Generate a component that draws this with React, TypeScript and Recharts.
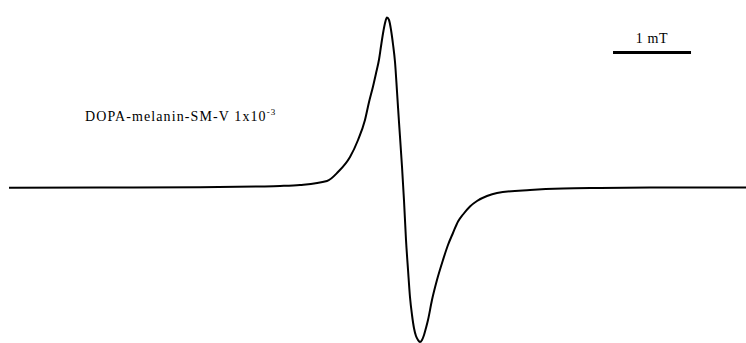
import React from "react";
import { LineChart, Line, XAxis, YAxis, ReferenceLine } from "recharts";

// Magnetic field offset from centre (mT)
const field = [
  -5.013, -3.846, -2.564, -1.795, -1.538, -1.282, -0.936, -0.795, -0.641, -0.538,
  -0.449, -0.397, -0.346, -0.308, -0.269, -0.244, -0.218, -0.192, -0.167, -0.141,
  -0.115, -0.09, -0.064, -0.038, -0.013, 0.026, 0.051, 0.077, 0.103, 0.128,
  0.154, 0.179, 0.205, 0.231, 0.256, 0.282, 0.308, 0.333, 0.359, 0.41,
  0.474, 0.551, 0.615, 0.679, 0.744, 0.808, 0.897, 0.987, 1.115, 1.244, 1.667,
  2.09, 2.564, 3.205, 4.436,
];

// First-derivative EPR signal (arbitrary units)
const signal = [
  -0.2, 0, 0.2, 1, 1.5, 2.5, 6.5, 15.5, 30.5, 47.5,
  67.5, 85.5, 101, 114, 128, 141, 154, 164.5, 170, 167.5,
  157.5, 143.5, 125.5, 95.5, 65.5, 20.5, -12.5, -52.5, -82.5, -109.5,
  -127.5, -140.5, -148.5, -152.5, -154.5, -152.5, -147.5, -140.5, -132.5, -112.5,
  -92.5, -72.5, -57.5, -45.5, -34, -27, -19, -13.5, -8.5, -5.5, -2.5,
  -1, -0.5, -0.1, 0,
];

const sampleLabel = "DOPA-melanin-SM-V 1x10";
const sampleExp = "-3";
const scaleLabel = "1 mT";
const scaleStart = 2.731;
const scaleLength = 1;
const scaleLevel = 135;

const data = field.map((b, i) => ({ b, s: signal[i] }));

const ScaleLabel = (props: any) => {
  const vb = props.viewBox || {};
  const cx = (vb.x || 0) + (vb.width || 0) / 2;
  const y = (vb.y || 0) - 10;
  return (
    <text
      x={cx}
      y={y}
      textAnchor="middle"
      fill="#000"
      fontSize={14}
      fontFamily="Liberation Serif"
      letterSpacing={0.6}
    >
      {scaleLabel}
    </text>
  );
};

export default function App() {
  return (
    <div style={{ position: "absolute", left: 0, top: 0, width: 746, height: 343, background: "#fff" }}>
      <LineChart width={746} height={343} data={data} margin={{ top: 0, right: 0, bottom: 0, left: 0 }}>
        <XAxis dataKey="b" type="number" domain={[-400 / 78, 346 / 78]} hide allowDataOverflow />
        <YAxis type="number" domain={[-155.5, 187.5]} hide allowDataOverflow />
        <Line
          type="monotone"
          dataKey="s"
          stroke="#000"
          strokeWidth={2}
          dot={false}
          activeDot={false}
          isAnimationActive={false}
        />
        <ReferenceLine
          segment={[
            { x: scaleStart, y: scaleLevel },
            { x: scaleStart + scaleLength, y: scaleLevel },
          ]}
          stroke="#000"
          strokeWidth={3}
          label={<ScaleLabel />}
        />
      </LineChart>
      <div
        style={{
          position: "absolute",
          left: 85,
          top: 107,
          fontFamily: "Liberation Serif",
          fontSize: 14,
          letterSpacing: 1.1,
          color: "#000",
          whiteSpace: "nowrap",
        }}
      >
        {sampleLabel}
        <sup style={{ fontSize: 9 }}>{sampleExp}</sup>
      </div>
    </div>
  );
}
